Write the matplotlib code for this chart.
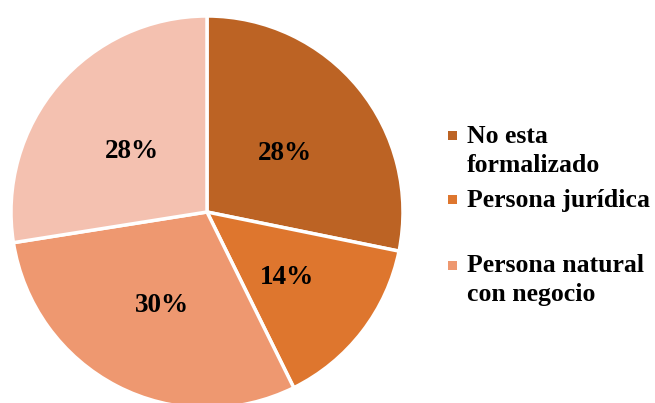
import matplotlib
matplotlib.use('Agg')
import matplotlib.pyplot as plt
from matplotlib.patches import Rectangle
from matplotlib.transforms import offset_copy

plt.rcParams.update({
    'font.family': ['Liberation Serif', 'DejaVu Serif'],
    'font.weight': 'bold',
})

# slice shares (percent), clockwise from 12 o'clock
values = [28.2, 14.5, 29.8, 27.5]
pct_labels = ['28%', '14%', '30%', '28%']
colors = ['#BC6324', '#DE762E', '#EE9870', '#F4C1B0']
# only three entries are shown in the legend of the original
legend_labels = ['No esta\nformalizado', 'Persona jurídica', 'Persona natural\ncon negocio']

W, H = 655, 403
fig = plt.figure(figsize=(W / 100, H / 100), dpi=100)
fig.patch.set_facecolor('white')

# pie: centre (207, 212) px, radius 196 px
cx, cy, r = 207, 212, 196
ax = fig.add_axes([(cx - r) / W, (H - cy - r) / H, 2 * r / W, 2 * r / H])
wedges, texts, autotexts = ax.pie(
    values, colors=colors, startangle=90, counterclock=False, radius=1,
    autopct='%.0f%%', pctdistance=0.51,
    wedgeprops=dict(edgecolor='white', linewidth=2.5),
    textprops=dict(fontsize=19.5, fontweight='bold', color='black'))
# Word places the labels a touch lower than matplotlib's centring
shifted = offset_copy(ax.transData, fig=fig, x=1, y=-4.5, units='dots')
for t, lab in zip(autotexts, pct_labels):
    t.set_text(lab)
    t.set_transform(shifted)
ax.set_xlim(-1, 1)
ax.set_ylim(-1, 1)
ax.set_aspect('equal')
ax.axis('off')

# legend drawn by hand to keep the Word-style layout
baselines = [143, 207, 272]
marker_y = [135, 200, 265]
line_step = 29.5
for lab, col, yb, ym in zip(legend_labels, colors, baselines, marker_y):
    fig.patches.append(Rectangle((448 / W, 1 - (ym + 4.5) / H), 9 / W, 9 / H,
                                 transform=fig.transFigure, facecolor=col,
                                 edgecolor='none'))
    for i, line in enumerate(lab.split('\n')):
        fig.text(467 / W, 1 - (yb + i * line_step) / H, line, fontsize=18.5,
                 fontweight='bold', ha='left', va='baseline')

fig.savefig('out.png', dpi=100, facecolor='white')
